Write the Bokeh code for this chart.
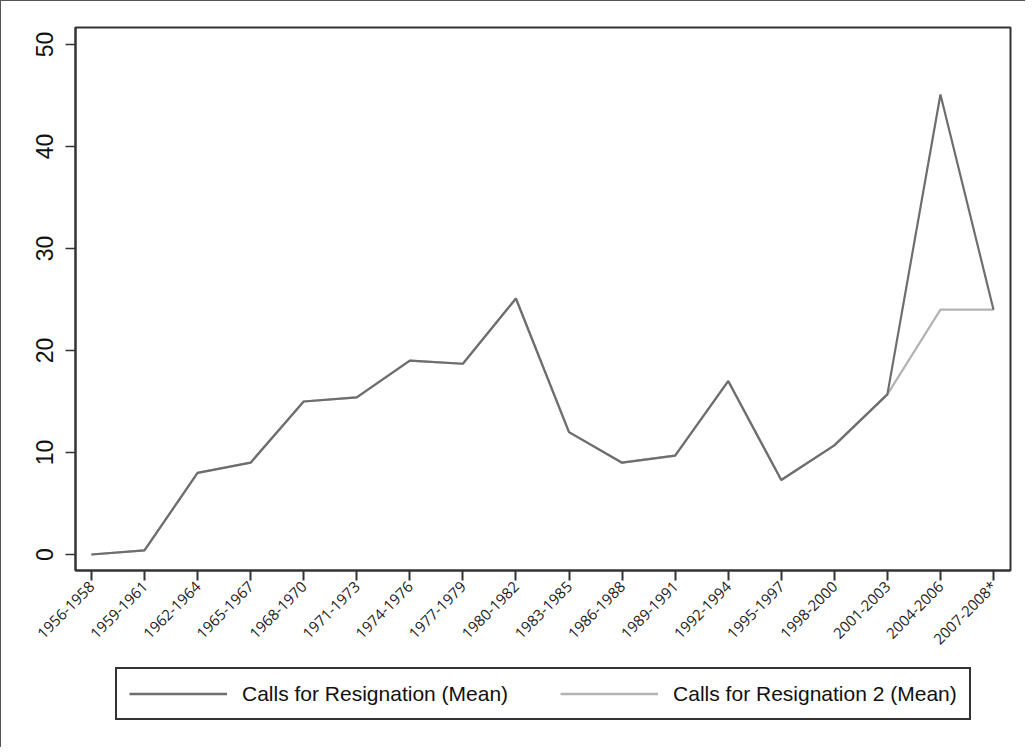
import math
from bokeh.plotting import figure
from bokeh.layouts import column
from bokeh.models import FixedTicker, Legend, LegendItem
from bokeh.embed import file_html
from bokeh.resources import INLINE

periods = ["1956-1958", "1959-1961", "1962-1964", "1965-1967", "1968-1970", "1971-1973",
           "1974-1976", "1977-1979", "1980-1982", "1983-1985", "1986-1988", "1989-1991",
           "1992-1994", "1995-1997", "1998-2000", "2001-2003", "2004-2006", "2007-2008*"]
calls_mean = [0, 0.4, 8.0, 9.0, 15.0, 15.4, 19.0, 18.7, 25.1, 12.0, 9.0, 9.7,
              17.0, 7.3, 10.7, 15.7, 45.1, 24.0]
calls2_mean = [0, 0.4, 8.0, 9.0, 15.0, 15.4, 19.0, 18.7, 25.1, 12.0, 9.0, 9.7,
               17.0, 7.3, 10.7, 15.7, 24.0, 24.0]
y_ticks = [0, 10, 20, 30, 40, 50]
series_names = ["Calls for Resignation (Mean)", "Calls for Resignation 2 (Mean)"]

xs = list(range(len(periods)))
DARK = "#6e6e6e"
LIGHT = "#b3b3b3"

p = figure(width=1024, height=660, output_backend="svg", toolbar_location=None,
           x_range=(-0.30, 17.32), y_range=(-1.57, 51.67),
           min_border_left=74, min_border_right=15, min_border_top=26, min_border_bottom=91)

p.grid.visible = False
p.outline_line_color = "#333333"
p.outline_line_width = 2
p.background_fill_color = "white"
p.border_fill_color = "white"

p.line(xs, calls2_mean, line_color=LIGHT, line_width=2.2)
p.line(xs, calls_mean, line_color=DARK, line_width=2.2)

xa = p.xaxis[0]
xa.ticker = FixedTicker(ticks=xs)
xa.major_label_overrides = {i: lab for i, lab in enumerate(periods)}
xa.major_label_orientation = math.pi / 4
xa.major_label_text_font = "Open Sans"
xa.major_label_text_font_size = "15px"
xa.major_label_text_color = "#222222"
xa.major_tick_in = 0
xa.major_tick_out = 10
xa.minor_tick_line_color = None
xa.axis_line_color = "#333333"
xa.axis_line_width = 2
xa.major_tick_line_color = "#333333"
xa.major_tick_line_width = 2
xa.major_label_standoff = 3

ya = p.yaxis[0]
ya.ticker = FixedTicker(ticks=y_ticks)
ya.major_label_orientation = "vertical"
ya.major_label_text_font = "Liberation Sans"
ya.major_label_text_font_size = "23px"
ya.major_label_text_color = "#111111"
ya.major_tick_in = 0
ya.major_tick_out = 10
ya.minor_tick_line_color = None
ya.axis_line_color = "#333333"
ya.axis_line_width = 2
ya.major_tick_line_color = "#333333"
ya.major_tick_line_width = 1.5
ya.major_label_standoff = 12

# legend strip (a second figure whose frame holds only the legend box)
lf = figure(width=1024, height=86, output_backend="svg", toolbar_location=None,
            x_range=(-0.30, 17.32), y_range=(-200, -199),
            x_axis_location=None, y_axis_location=None,
            min_border_left=0, min_border_right=0, min_border_top=0, min_border_bottom=0)
lf.grid.visible = False
lf.outline_line_color = None
lf.background_fill_color = "white"
lf.border_fill_color = "white"
l1 = lf.line(xs, calls_mean, line_color=DARK, line_width=2.5)
l2 = lf.line(xs, calls2_mean, line_color=LIGHT, line_width=2.5)

legend = Legend(items=[LegendItem(label=series_names[0], renderers=[l1]),
                       LegendItem(label=series_names[1], renderers=[l2])],
                orientation="horizontal", location=(40, 27))
legend.label_text_font = "Liberation Sans"
legend.label_text_font_size = "21px"
legend.label_text_color = "#111111"
legend.glyph_width = 98
legend.glyph_height = 25
legend.label_height = 25
legend.label_standoff = 15
legend.spacing = 52
legend.padding = 12
legend.margin = 0
legend.border_line_color = "#333333"
legend.border_line_alpha = 1
legend.border_line_width = 2
legend.background_fill_alpha = 1
lf.add_layout(legend, "center")

layout = column(p, lf, spacing=0)
layout.styles = {"border-left": "1px solid #555555", "border-top": "1px solid #555555"}

open("out.html", "w").write(file_html(layout, INLINE))
